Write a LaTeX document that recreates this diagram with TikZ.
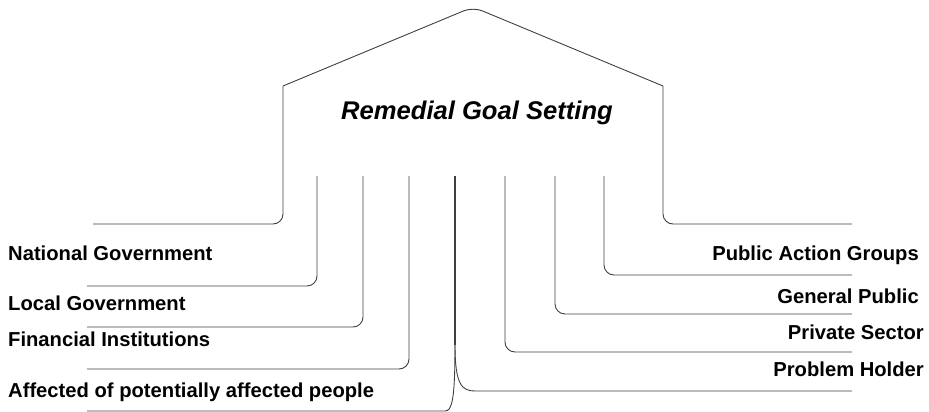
\documentclass[tikz,border=0pt]{standalone}
\usepackage{fontspec}
\setmainfont{Liberation Sans}
\usetikzlibrary{positioning}
\tikzset{
	grouplabel/.style={font=\bfseries\fontsize{20.2}{23}\selectfont, inner sep=0pt}
}
\tikzset{
	goaltitle/.style={font=\bfseries\itshape\fontsize{25.6}{28}\selectfont, inner sep=0pt}
}
\tikzset{
	wire/.style={draw=black!75, line width=0.9pt, rounded corners=10pt}
}

\begin{document}
\begin{tikzpicture}[x=1pt,y=-1pt]
      \useasboundingbox (0,0) rectangle (929,412);
      % roof and walls
      \coordinate (apex) at (473,7);
      \coordinate (eaveL) at (283,86);
      \coordinate (eaveR) at (663,86);
      \draw[wire] (eaveL) -- (apex) -- (eaveR);
      \draw[wire] (eaveL) -- (283,224) -- (93,224);
      \draw[wire] (eaveR) -- (663,224) -- (852,224);
      \node[goaltitle, anchor=base] (goal) at (477,119) {Remedial Goal Setting};
      % left posts
      \foreach \x/\y in {317/286, 363/327, 409/369}
        \draw[wire] (\x,176) -- (\x,\y) -- (87,\y);
      % right posts
      \foreach \x/\y in {505/352, 555/314, 604/275}
        \draw[wire] (\x,176) -- (\x,\y) -- (852,\y);
      % middle post, split both ways
      \coordinate (fork) at (455,345);
      \draw[wire, line width=1.5pt] (455,176) -- (fork);
      \draw[wire] (fork) .. controls (455,400) and (452,411) .. (435,411) -- (87,411);
      \draw[wire] (fork) .. controls (455,385) and (462,391) .. (485,391) -- (852,391);
      % left labels
      \foreach \y/\t/\l in {260/natgov/National Government, 310/locgov/Local Government,
        346/fininst/Financial Institutions, 397/affected/Affected of potentially affected people}
        \node[grouplabel, anchor=base west] (\t) at (8,\y) {\l};
      % right labels
      \foreach \y/\x/\t/\l in {260/919/pubact/Public Action Groups, 303/919/genpub/General Public,
        339/924/privsec/Private Sector, 376/924/probhold/Problem Holder}
        \node[grouplabel, anchor=base east] (\t) at (\x,\y) {\l};
\end{tikzpicture}
\end{document}
